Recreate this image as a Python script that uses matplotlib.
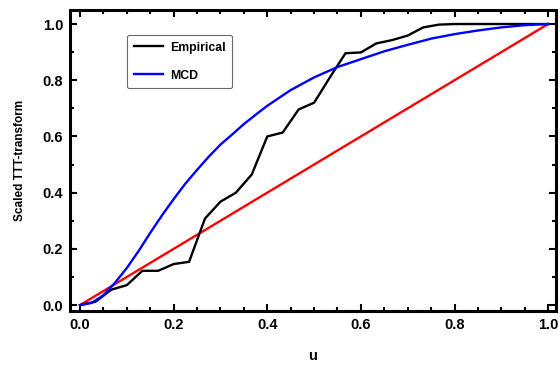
import matplotlib
matplotlib.use("Agg")
import matplotlib.pyplot as plt
from matplotlib.ticker import MultipleLocator

plt.rcParams['font.family'] = ['Liberation Sans', 'DejaVu Sans']
plt.rcParams['font.weight'] = 'bold'

# Reference line
ref_u = [0.0, 1.0]
ref_v = [0.0, 1.0]

# Empirical scaled TTT
emp_u = [0.0, 0.033, 0.067, 0.1, 0.133, 0.167, 0.2, 0.233, 0.267, 0.3, 0.333,
         0.367, 0.4, 0.433, 0.467, 0.5, 0.533, 0.567, 0.6, 0.633, 0.667, 0.7,
         0.733, 0.767, 0.8, 0.833, 0.867, 0.9, 0.933, 0.967, 1.0]
emp_v = [0.0, 0.012, 0.055, 0.071, 0.122, 0.122, 0.146, 0.154, 0.308, 0.368, 0.4,
         0.465, 0.60, 0.614, 0.696, 0.72, 0.808, 0.896, 0.899, 0.931, 0.943, 0.959,
         0.988, 0.998, 1.0, 1.0, 1.0, 1.0, 1.0, 1.0, 1.0]

# MCD fitted curve
mcd_u = [0.0, 0.025, 0.05, 0.075, 0.1, 0.125, 0.15, 0.175, 0.2, 0.225, 0.25,
         0.275, 0.3, 0.325, 0.35, 0.375, 0.4, 0.45, 0.5, 0.55, 0.6, 0.65, 0.7,
         0.75, 0.8, 0.85, 0.9, 0.95, 1.0]
mcd_v = [0.0, 0.008, 0.035, 0.08, 0.132, 0.192, 0.257, 0.319, 0.377, 0.432, 0.481,
         0.528, 0.571, 0.607, 0.644, 0.677, 0.709, 0.765, 0.810, 0.847, 0.875, 0.903,
         0.926, 0.948, 0.964, 0.977, 0.988, 0.996, 1.0]

fig = plt.figure(figsize=(5.6, 3.67), dpi=100)
ax = fig.add_axes([0.125, 0.1526, 0.868, 0.8202])

ax.plot(ref_u, ref_v, color='#ff0000', lw=1.7)
ax.plot(emp_u, emp_v, color='black', lw=1.7, label='Empirical')
ax.plot(mcd_u, mcd_v, color='#0000ff', lw=1.7, label='MCD')

ax.set_xlim(-0.0214, 1.017)
ax.set_ylim(-0.021, 1.05)
ax.xaxis.set_major_locator(MultipleLocator(0.2))
ax.xaxis.set_minor_locator(MultipleLocator(0.05))
ax.yaxis.set_major_locator(MultipleLocator(0.2))
ax.yaxis.set_minor_locator(MultipleLocator(0.1))
ax.xaxis.set_major_formatter(plt.FuncFormatter(lambda v, p: f"{v:.1f}"))
ax.yaxis.set_major_formatter(plt.FuncFormatter(lambda v, p: f"{v:.1f}"))
ax.tick_params(which='both', direction='in', top=True, right=True, width=1.5)
ax.tick_params(which='major', length=5, labelsize=10.5, pad=5)
ax.tick_params(which='minor', length=3)
for s in ax.spines.values():
    s.set_linewidth(2.2)

ax.set_xlabel('u', fontsize=10.5, fontweight='bold', labelpad=12)
ax.set_ylabel('Scaled TTT-transform', fontsize=8.5, fontweight='bold', labelpad=12)

leg = ax.legend(loc='upper left', bbox_to_anchor=(0.117, 0.917), fontsize=8.8,
                frameon=True, handlelength=2.4, handletextpad=0.55, borderpad=0.55,
                labelspacing=1.3, fancybox=True, edgecolor='#444444',
                borderaxespad=0)
for t in leg.get_texts():
    t.set_fontweight('bold')
leg.get_frame().set_linewidth(0.8)

fig.savefig('out.png', dpi=100)
